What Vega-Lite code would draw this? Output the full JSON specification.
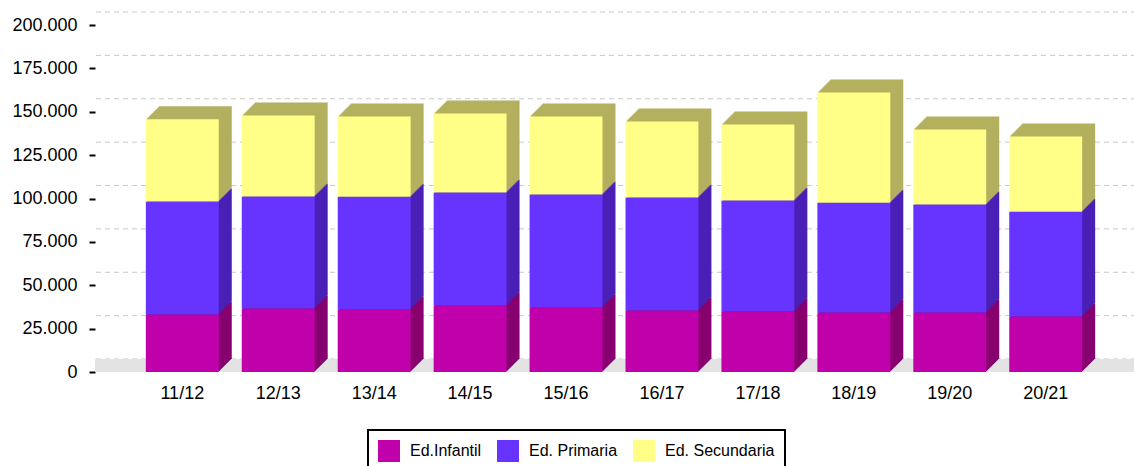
{
  "$schema": "https://vega.github.io/schema/vega-lite/v6.json",
  "width": 1038,
  "height": 347,
  "autosize": "none",
  "padding": {"left": 95, "top": 25, "right": 1, "bottom": 94},
  "background": "white",
  "config": {
    "view": {"stroke": null},
    "font": "Liberation Sans",
    "legend": {"strokeWidth": 2},
    "locale": {"number": {"decimal": ",", "thousands": ".", "grouping": [3], "currency": ["", " €"]}}
  },
  "datasets": {
    "edu": [
      {"curso": "11/12", "serie": "Ed.Infantil", "orden": 1, "valor": 33100},
      {"curso": "11/12", "serie": "Ed. Primaria", "orden": 2, "valor": 65200},
      {"curso": "11/12", "serie": "Ed. Secundaria", "orden": 3, "valor": 47400},
      {"curso": "12/13", "serie": "Ed.Infantil", "orden": 1, "valor": 36600},
      {"curso": "12/13", "serie": "Ed. Primaria", "orden": 2, "valor": 64600},
      {"curso": "12/13", "serie": "Ed. Secundaria", "orden": 3, "valor": 46600},
      {"curso": "13/14", "serie": "Ed.Infantil", "orden": 1, "valor": 36000},
      {"curso": "13/14", "serie": "Ed. Primaria", "orden": 2, "valor": 65000},
      {"curso": "13/14", "serie": "Ed. Secundaria", "orden": 3, "valor": 46300},
      {"curso": "14/15", "serie": "Ed.Infantil", "orden": 1, "valor": 38300},
      {"curso": "14/15", "serie": "Ed. Primaria", "orden": 2, "valor": 65200},
      {"curso": "14/15", "serie": "Ed. Secundaria", "orden": 3, "valor": 45500},
      {"curso": "15/16", "serie": "Ed.Infantil", "orden": 1, "valor": 37200},
      {"curso": "15/16", "serie": "Ed. Primaria", "orden": 2, "valor": 65100},
      {"curso": "15/16", "serie": "Ed. Secundaria", "orden": 3, "valor": 45000},
      {"curso": "16/17", "serie": "Ed.Infantil", "orden": 1, "valor": 35400},
      {"curso": "16/17", "serie": "Ed. Primaria", "orden": 2, "valor": 65200},
      {"curso": "16/17", "serie": "Ed. Secundaria", "orden": 3, "valor": 43800},
      {"curso": "17/18", "serie": "Ed.Infantil", "orden": 1, "valor": 34900},
      {"curso": "17/18", "serie": "Ed. Primaria", "orden": 2, "valor": 63900},
      {"curso": "17/18", "serie": "Ed. Secundaria", "orden": 3, "valor": 43900},
      {"curso": "18/19", "serie": "Ed.Infantil", "orden": 1, "valor": 34300},
      {"curso": "18/19", "serie": "Ed. Primaria", "orden": 2, "valor": 63300},
      {"curso": "18/19", "serie": "Ed. Secundaria", "orden": 3, "valor": 63500},
      {"curso": "19/20", "serie": "Ed.Infantil", "orden": 1, "valor": 34300},
      {"curso": "19/20", "serie": "Ed. Primaria", "orden": 2, "valor": 62200},
      {"curso": "19/20", "serie": "Ed. Secundaria", "orden": 3, "valor": 43300},
      {"curso": "20/21", "serie": "Ed.Infantil", "orden": 1, "valor": 32000},
      {"curso": "20/21", "serie": "Ed. Primaria", "orden": 2, "valor": 60400},
      {"curso": "20/21", "serie": "Ed. Secundaria", "orden": 3, "valor": 43300}
    ],
    "grid": [
      {"v": 0}, {"v": 25000}, {"v": 50000}, {"v": 75000}, {"v": 100000},
      {"v": 125000}, {"v": 150000}, {"v": 175000}, {"v": 200000}
    ]
  },
  "layer": [
    {
      "data": {"name": "grid"},
      "mark": {"type": "rule", "xOffset": 12, "yOffset": -13, "color": "#c8c8c8", "strokeDash": [5, 4], "strokeWidth": 1},
      "encoding": {
        "y": {"field": "v", "type": "quantitative", "scale": {"domain": [0, 200000], "nice": false, "zero": true}}
      }
    },
    {
      "data": {"values": [{}]},
      "mark": {"type": "rule", "xOffset": 6, "yOffset": -6.5, "color": "#e3e3e3", "strokeWidth": 13},
      "encoding": {"y": {"datum": 0, "type": "quantitative"}}
    },
    {
      "data": {"name": "edu"},
      "encoding": {
        "x": {
          "field": "curso", "type": "nominal", "sort": null, "title": null,
          "scale": {"paddingInner": 0.24, "paddingOuter": 0.53},
          "axis": {"domain": false, "ticks": false, "labelAngle": 0, "labelFontSize": 18, "labelColor": "black", "labelPadding": 12}
        },
        "y": {
          "field": "valor", "type": "quantitative", "stack": "zero", "title": null,
          "axis": {
            "values": [0, 25000, 50000, 75000, 100000, 125000, 150000, 175000, 200000],
            "format": ",.0f", "domain": false, "grid": false,
            "tickColor": "black", "tickWidth": 2, "tickSize": 6,
            "labelFontSize": 18, "labelColor": "black", "labelPadding": 12
          }
        },
        "order": {"field": "orden", "type": "quantitative"}
      },
      "layer": [
        {"mark": {"type": "bar", "xOffset": 13, "yOffset": -13}, "encoding": {"fill": {"field": "serie", "type": "nominal", "scale": {"domain": ["Ed. Secundaria", "Ed. Primaria", "Ed.Infantil"], "range": ["#b3b05f", "#4a20b6", "#87006f"]}, "legend": null}}},
        {"mark": {"type": "bar", "xOffset": 12, "yOffset": -12}, "encoding": {"fill": {"field": "serie", "type": "nominal", "legend": null}}},
        {"mark": {"type": "bar", "xOffset": 11, "yOffset": -11}, "encoding": {"fill": {"field": "serie", "type": "nominal", "legend": null}}},
        {"mark": {"type": "bar", "xOffset": 10, "yOffset": -10}, "encoding": {"fill": {"field": "serie", "type": "nominal", "legend": null}}},
        {"mark": {"type": "bar", "xOffset": 9, "yOffset": -9}, "encoding": {"fill": {"field": "serie", "type": "nominal", "legend": null}}},
        {"mark": {"type": "bar", "xOffset": 8, "yOffset": -8}, "encoding": {"fill": {"field": "serie", "type": "nominal", "legend": null}}},
        {"mark": {"type": "bar", "xOffset": 7, "yOffset": -7}, "encoding": {"fill": {"field": "serie", "type": "nominal", "legend": null}}},
        {"mark": {"type": "bar", "xOffset": 6, "yOffset": -6}, "encoding": {"fill": {"field": "serie", "type": "nominal", "legend": null}}},
        {"mark": {"type": "bar", "xOffset": 5, "yOffset": -5}, "encoding": {"fill": {"field": "serie", "type": "nominal", "legend": null}}},
        {"mark": {"type": "bar", "xOffset": 4, "yOffset": -4}, "encoding": {"fill": {"field": "serie", "type": "nominal", "legend": null}}},
        {"mark": {"type": "bar", "xOffset": 3, "yOffset": -3}, "encoding": {"fill": {"field": "serie", "type": "nominal", "legend": null}}},
        {"mark": {"type": "bar", "xOffset": 2, "yOffset": -2}, "encoding": {"fill": {"field": "serie", "type": "nominal", "legend": null}}},
        {"mark": {"type": "bar", "xOffset": 1, "yOffset": -1}, "encoding": {"fill": {"field": "serie", "type": "nominal", "legend": null}}},
        {
          "mark": {"type": "bar", "opacity": 1},
          "encoding": {
            "color": {
              "field": "serie", "type": "nominal",
              "scale": {"domain": ["Ed.Infantil", "Ed. Primaria", "Ed. Secundaria"], "range": ["#c000aa", "#6633ff", "#ffff88"]},
              "legend": {
                "orient": "none", "legendX": 273, "legendY": 405, "direction": "horizontal", "title": null,
                "symbolType": "square", "symbolSize": 484, "symbolStrokeWidth": 0, "symbolOpacity": 1,
                "labelFontSize": 16, "labelColor": "black", "labelOffset": 10, "columnPadding": 15,
                "padding": 10, "strokeColor": "black"
              }
            }
          }
        }
      ]
    }
  ]
}
